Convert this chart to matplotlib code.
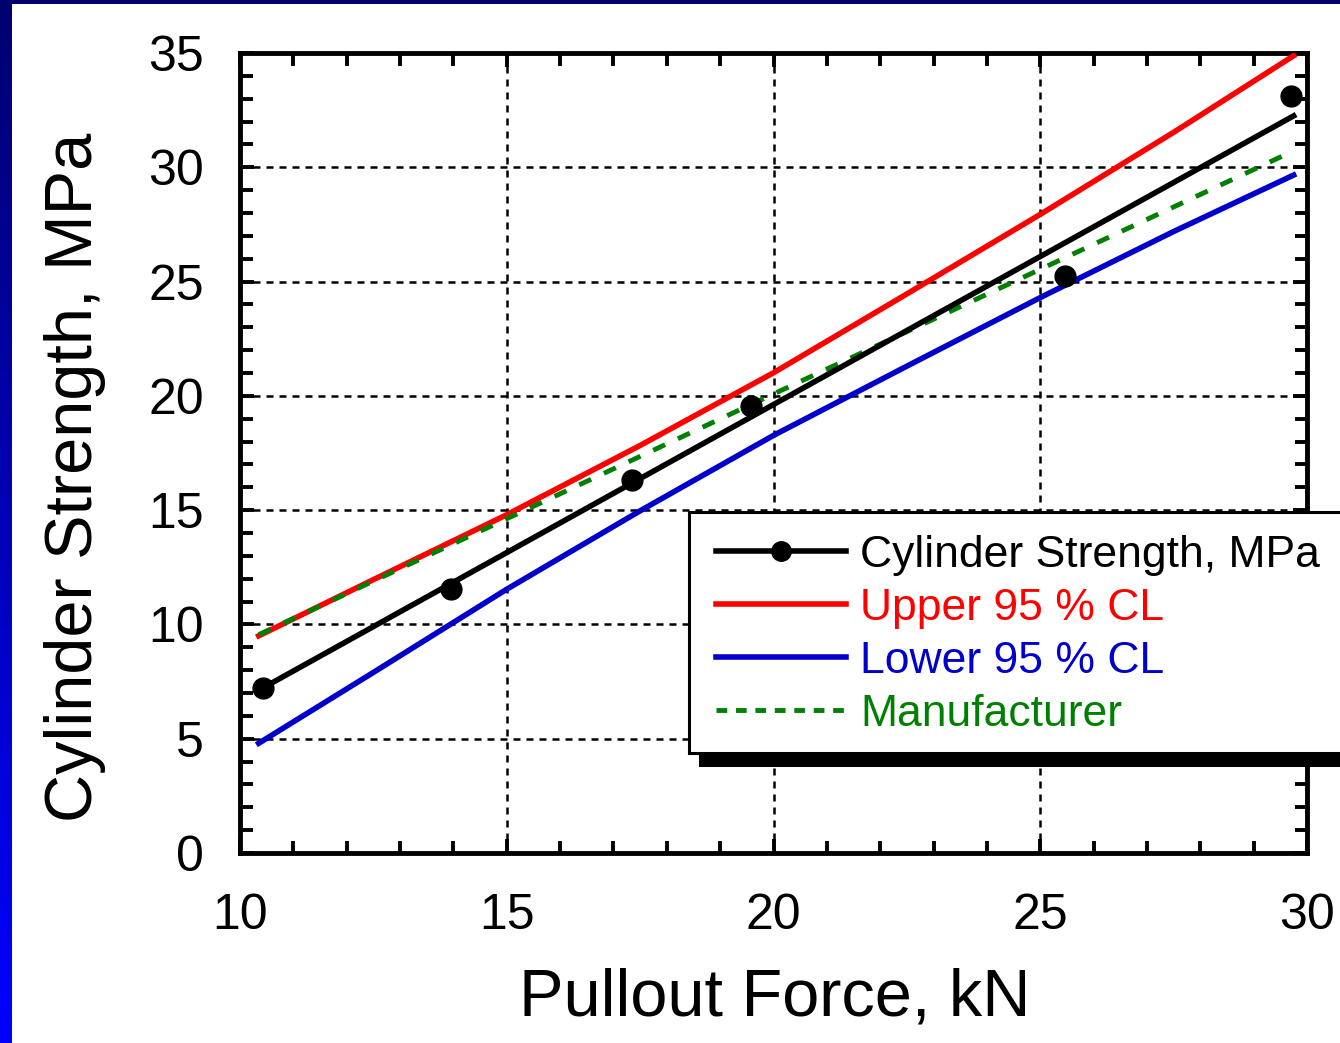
import numpy as np
import matplotlib
matplotlib.use('Agg')
import matplotlib.pyplot as plt
from matplotlib.lines import Line2D
from matplotlib.patches import Rectangle
from matplotlib.ticker import MultipleLocator

plt.rcParams['font.family'] = ['Liberation Sans', 'DejaVu Sans']

# measured points
force = [10.43, 13.95, 17.35, 19.58, 25.46, 29.70]
strength = [7.22, 11.55, 16.32, 19.56, 25.24, 33.12]

# regression line
fit_x = [10.35, 29.75]
fit_y = [7.12, 32.25]

# 95 % confidence limits
cl_x = [10.35, 12.5, 15.0, 17.5, 20.0, 22.5, 25.0, 27.5, 29.75]
upper = [9.50, 11.96, 14.80, 17.83, 21.01, 24.46, 27.94, 31.53, 34.88]
lower = [4.80, 7.90, 11.54, 14.97, 18.27, 21.30, 24.30, 27.19, 29.66]

# manufacturer correlation
man_x = [10.35, 29.75]
man_y = [9.55, 30.72]

labels = ['Cylinder Strength, MPa', 'Upper 95 % CL', 'Lower 95 % CL', 'Manufacturer']
colors = ['black', '#ff0000', '#0000cc', '#008000']

W, H = 1340, 1043
fig = plt.figure(figsize=(13.4, 10.43), dpi=100)
ax = fig.add_axes([240/W, 1-853/H, 1067/W, 800/H])

ax.plot(cl_x, upper, color=colors[1], lw=4, zorder=3)
ax.plot(cl_x, lower, color=colors[2], lw=4, zorder=3)
ax.plot(man_x, man_y, color=colors[3], lw=3.5, linestyle=(0, (2.7, 2.9)), zorder=4)
ax.plot(fit_x, fit_y, color='black', lw=4, zorder=5)
ax.plot(force, strength, 'o', color='black', markersize=15, zorder=6)

ax.set_xlim(10, 30)
ax.set_ylim(0, 35)
ax.xaxis.set_major_locator(MultipleLocator(5))
ax.xaxis.set_minor_locator(MultipleLocator(1))
ax.yaxis.set_major_locator(MultipleLocator(5))
ax.yaxis.set_minor_locator(MultipleLocator(1))
ax.tick_params(which='both', direction='in', top=True, right=True, width=2.8, labelsize=36)
ax.tick_params(which='major', length=10)
ax.tick_params(which='minor', length=9)
ax.tick_params(axis='x', pad=29)
ax.tick_params(axis='y', pad=26)
for s in ax.spines.values():
    s.set_linewidth(3.5)
ax.grid(True, which='major', color='black', lw=1.8, linestyle=(0, (2.8, 2.4)))
ax.set_axisbelow(False)

ax.set_xlabel('Pullout Force, kN', fontsize=48)
ax.set_ylabel('Cylinder Strength, MPa', fontsize=48)
ax.xaxis.set_label_coords(0.501, -0.143)
ax.yaxis.set_label_coords(-0.1256, 0.469)

# legend box with shadow, running off the right edge
ax.add_patch(Rectangle((699/W, 1-767/H), 700/W, 241/H, transform=fig.transFigure,
                       facecolor='black', edgecolor='none', clip_on=False, zorder=8))
ax.add_patch(Rectangle((689/W, 1-753/H), 700/W, 241/H, transform=fig.transFigure,
                       facecolor='white', edgecolor='black', lw=2.2, clip_on=False, zorder=9))

handles = [
    Line2D([], [], color='black', lw=4, marker='o', markersize=14),
    Line2D([], [], color=colors[1], lw=4),
    Line2D([], [], color=colors[2], lw=4),
    Line2D([], [], color=colors[3], lw=3.5, linestyle=(0, (2.2, 1.8))),
]
leg = ax.legend(handles, labels, loc='upper left', bbox_to_anchor=(695/W, 1-514/H),
                bbox_transform=fig.transFigure, borderaxespad=0, fontsize=32,
                labelcolor=colors, handlelength=2.93, handletextpad=0.32,
                labelspacing=0.27, borderpad=0.47, frameon=False)
leg.set_zorder(10)

# slide background border
bar = fig.add_axes([0, 0, 12/W, 1])
grad = np.linspace(0, 1, 256).reshape(-1, 1)
cmap = matplotlib.colors.LinearSegmentedColormap.from_list('b', ['#000070', '#0000ff'])
bar.imshow(grad, aspect='auto', cmap=cmap, extent=[0, 1, 0, 1], origin='upper')
bar.axis('off')
fig.add_artist(Rectangle((0, 1-4/H), 1, 4/H, transform=fig.transFigure,
                         facecolor='#00006e', edgecolor='none'))

fig.savefig('out.png', dpi=100)
